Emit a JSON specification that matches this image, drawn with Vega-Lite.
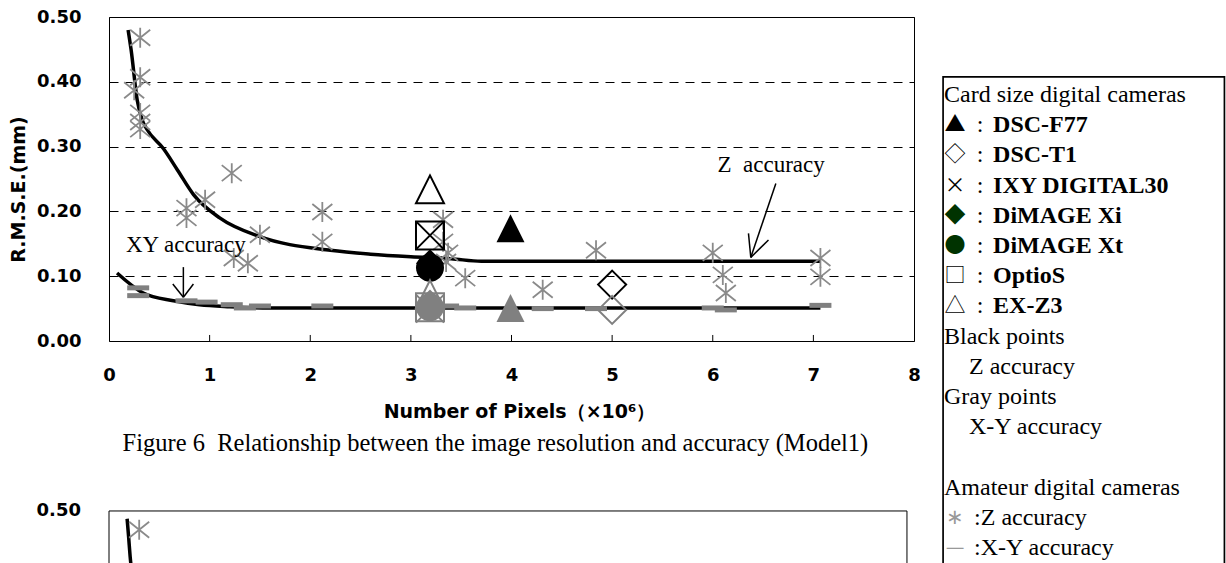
{
"$schema": "https://vega.github.io/schema/vega-lite/v6.json",
"width": 805,
"height": 324,
"autosize": {"type": "none"},
"padding": {"left": 109, "top": 17, "right": 312, "bottom": 222},
"background": "white",
"config": {"view": {"stroke": "#000000", "strokeWidth": 1}},
"datasets": {
"ticks": [{"px": 1}, {"px": 2}, {"px": 3}, {"px": 4}, {"px": 5}, {"px": 6}, {"px": 7}],
"curves": [
{"curve": "Z", "px": 0.19, "rmse": 0.48}, {"curve": "Z", "px": 0.22, "rmse": 0.449}, {"curve": "Z", "px": 0.28, "rmse": 0.372},
{"curve": "Z", "px": 0.33, "rmse": 0.341}, {"curve": "Z", "px": 0.38, "rmse": 0.326}, {"curve": "Z", "px": 0.54, "rmse": 0.297},
{"curve": "Z", "px": 0.68, "rmse": 0.264}, {"curve": "Z", "px": 0.84, "rmse": 0.226}, {"curve": "Z", "px": 1.1, "rmse": 0.19},
{"curve": "Z", "px": 1.5, "rmse": 0.161}, {"curve": "Z", "px": 2.2, "rmse": 0.14}, {"curve": "Z", "px": 2.6, "rmse": 0.134},
{"curve": "Z", "px": 3.0, "rmse": 0.13}, {"curve": "Z", "px": 3.4, "rmse": 0.127}, {"curve": "Z", "px": 3.7, "rmse": 0.123},
{"curve": "Z", "px": 5.0, "rmse": 0.123}, {"curve": "Z", "px": 7.07, "rmse": 0.123},
{"curve": "XY", "px": 0.08, "rmse": 0.105}, {"curve": "XY", "px": 0.34, "rmse": 0.074}, {"curve": "XY", "px": 0.64, "rmse": 0.062},
{"curve": "XY", "px": 0.9, "rmse": 0.056}, {"curve": "XY", "px": 1.2, "rmse": 0.053}, {"curve": "XY", "px": 1.6, "rmse": 0.051},
{"curve": "XY", "px": 4.0, "rmse": 0.051}, {"curve": "XY", "px": 7.07, "rmse": 0.051}
],
"amZ": [
{"px": 0.31, "rmse": 0.468}, {"px": 0.31, "rmse": 0.407}, {"px": 0.25, "rmse": 0.387}, {"px": 0.31, "rmse": 0.352},
{"px": 0.31, "rmse": 0.338}, {"px": 0.31, "rmse": 0.327}, {"px": 0.77, "rmse": 0.205}, {"px": 0.77, "rmse": 0.19},
{"px": 0.955, "rmse": 0.218}, {"px": 1.22, "rmse": 0.259}, {"px": 1.24, "rmse": 0.128}, {"px": 1.38, "rmse": 0.12},
{"px": 1.5, "rmse": 0.164}, {"px": 2.12, "rmse": 0.199}, {"px": 2.12, "rmse": 0.153}, {"px": 3.32, "rmse": 0.187},
{"px": 3.32, "rmse": 0.153}, {"px": 3.37, "rmse": 0.136}, {"px": 3.35, "rmse": 0.122}, {"px": 3.54, "rmse": 0.097},
{"px": 4.31, "rmse": 0.079}, {"px": 4.84, "rmse": 0.14}, {"px": 6.0, "rmse": 0.136}, {"px": 6.1, "rmse": 0.102},
{"px": 6.13, "rmse": 0.074}, {"px": 7.07, "rmse": 0.128}, {"px": 7.07, "rmse": 0.099}
],
"amXY": [
{"px": 0.29, "rmse": 0.082}, {"px": 0.29, "rmse": 0.07}, {"px": 0.77, "rmse": 0.062}, {"px": 0.97, "rmse": 0.06},
{"px": 1.22, "rmse": 0.056}, {"px": 1.35, "rmse": 0.051}, {"px": 1.5, "rmse": 0.054}, {"px": 2.12, "rmse": 0.054},
{"px": 3.37, "rmse": 0.054}, {"px": 3.54, "rmse": 0.051}, {"px": 4.31, "rmse": 0.05}, {"px": 4.84, "rmse": 0.05},
{"px": 6.0, "rmse": 0.051}, {"px": 6.13, "rmse": 0.048}, {"px": 7.07, "rmse": 0.055}
],
"card": [
{"camera": "DSC-F77", "type": "Z", "px": 3.99, "rmse": 0.174},
{"camera": "DSC-F77", "type": "XY", "px": 3.99, "rmse": 0.051},
{"camera": "DSC-T1", "type": "Z", "px": 5.0, "rmse": 0.087},
{"camera": "DSC-T1", "type": "XY", "px": 5.0, "rmse": 0.048},
{"camera": "DiMAGE Xi", "type": "Z", "px": 3.19, "rmse": 0.12},
{"camera": "DiMAGE Xi", "type": "XY", "px": 3.19, "rmse": 0.058},
{"camera": "DiMAGE Xt", "type": "Z", "px": 3.19, "rmse": 0.113},
{"camera": "DiMAGE Xt", "type": "XY", "px": 3.19, "rmse": 0.052},
{"camera": "IXY DIGITAL30", "type": "Z", "px": 3.19, "rmse": 0.163},
{"camera": "IXY DIGITAL30", "type": "XY", "px": 3.19, "rmse": 0.05},
{"camera": "OptioS", "type": "Z", "px": 3.19, "rmse": 0.163},
{"camera": "OptioS", "type": "XY", "px": 3.19, "rmse": 0.052},
{"camera": "EX-Z3", "type": "Z", "px": 3.19, "rmse": 0.234},
{"camera": "EX-Z3", "type": "XY", "px": 3.19, "rmse": 0.072}
],
"arrows": [
{"px": 6.627, "rmse": 0.243, "px2": 6.378, "rmse2": 0.129},
{"px": 6.355, "rmse": 0.166, "px2": 6.378, "rmse2": 0.129},
{"px": 6.554, "rmse": 0.156, "px2": 6.378, "rmse2": 0.129},
{"px": 0.739, "rmse": 0.114, "px2": 0.739, "rmse2": 0.0674},
{"px": 0.634, "rmse": 0.088, "px2": 0.739, "rmse2": 0.0674},
{"px": 0.839, "rmse": 0.088, "px2": 0.739, "rmse2": 0.0674}
],
"notes": [
{"text": "XY accuracy", "px": 0.764, "rmse": 0.137},
{"text": "Z\u00a0 accuracy", "px": 6.58, "rmse": 0.261}
],
"caption": [
{"text": "Figure 6\u00a0 Relationship between the image resolution and accuracy (Model1)", "px": 3.84, "rmse": -0.17}
],
"legend": [
{"row": 0, "kind": "head", "name": "Card size digital cameras"},
{"row": 1, "kind": "item", "sym": "▲", "ink": "black", "name": "DSC-F77"},
{"row": 2, "kind": "item", "sym": "◇", "ink": "black", "name": "DSC-T1"},
{"row": 3, "kind": "item", "sym": "×", "ink": "black", "name": "IXY DIGITAL30"},
{"row": 4, "kind": "item", "sym": "◆", "ink": "green", "name": "DiMAGE Xi"},
{"row": 5, "kind": "item", "sym": "●", "ink": "green", "name": "DiMAGE Xt"},
{"row": 6, "kind": "item", "sym": "□", "ink": "black", "name": "OptioS"},
{"row": 7, "kind": "item", "sym": "△", "ink": "black", "name": "EX-Z3"},
{"row": 8, "kind": "head", "name": "Black points"},
{"row": 9, "kind": "sub", "name": "Z accuracy"},
{"row": 10, "kind": "head", "name": "Gray points"},
{"row": 11, "kind": "sub", "name": "X-Y accuracy"},
{"row": 13, "kind": "head", "name": "Amateur digital cameras"},
{"row": 14, "kind": "amat", "sym": "∗", "ink": "gray", "name": ":Z accuracy"},
{"row": 15, "kind": "amat", "sym": "—", "ink": "gray", "name": ":X-Y accuracy"}
],
"box": [{"x1": 8.289, "x2": 11.085, "r1": -0.6, "r2": 17.5}],
"curve2": [
{"px": 0.18, "rmse": 0.488}, {"px": 0.195, "rmse": 0.46}, {"px": 0.21, "rmse": 0.43}, {"px": 0.23, "rmse": 0.4}, {"px": 0.27, "rmse": 0.35}
],
"amZ2": [{"px": 0.3, "rmse": 0.471}],
"frame2": [
{"px": 0, "rmse": 0.5, "px2": 7.93, "rmse2": 0.5},
{"px": 0, "rmse": 0.5, "px2": 0, "rmse2": 0.3},
{"px": 7.93, "rmse": 0.5, "px2": 7.93, "rmse2": 0.3}
],
"label2": [{"label": "0.50", "rmse": 0.5}]
},
"layer": [
{
"layer": [
{"data": {"name": "ticks"}, "mark": {"type": "rule", "color": "#000000", "strokeWidth": 1},
 "encoding": {
  "x": {"field": "px", "type": "quantitative", "scale": {"domain": [0, 8], "nice": false, "zero": false}},
  "y": {"datum": 0, "type": "quantitative", "scale": {"domain": [0, 0.5], "nice": false, "zero": false}},
  "y2": {"datum": 0.0093}
 }},
{"data": {"name": "curves"}, "mark": {"type": "line", "interpolate": "monotone", "color": "#000000", "strokeWidth": 3.5},
 "encoding": {
  "x": {"field": "px", "type": "quantitative", "scale": {"domain": [0, 8], "nice": false, "zero": false},
   "axis": {"title": "Number of Pixels（×10⁶）", "values": [0, 1, 2, 3, 4, 5, 6, 7, 8], "format": "d", "grid": false, "ticks": false, "domain": false,
    "labelFont": "DejaVu Sans", "labelFontWeight": "bold", "labelFontSize": 18, "labelColor": "#000000", "labelPadding": 34, "labelBaseline": "middle", "labelFlush": false, "labelOverlap": false,
    "titleFont": "DejaVu Sans", "titleFontWeight": "bold", "titleFontSize": 19, "titleColor": "#000000", "titleX": 410, "titleY": 70, "titleBaseline": "middle", "titleAlign": "center"}},
  "y": {"field": "rmse", "type": "quantitative", "scale": {"domain": [0, 0.5], "nice": false, "zero": false},
   "axis": {"title": "R.M.S.E.(mm)", "values": [0, 0.1, 0.2, 0.3, 0.4, 0.5], "format": ".2f", "grid": true, "gridColor": "#000000", "gridDash": [9, 7], "gridWidth": 1, "gridOpacity": 1, "ticks": false, "domain": false,
    "labelFont": "DejaVu Sans", "labelFontWeight": "bold", "labelFontSize": 18, "labelColor": "#000000", "labelPadding": 28, "labelBaseline": "middle", "labelFlush": false, "labelOverlap": false,
    "titleFont": "DejaVu Sans", "titleFontWeight": "bold", "titleFontSize": 19, "titleColor": "#000000", "titleX": -91, "titleY": 172, "titleAngle": 270, "titleBaseline": "middle", "titleAlign": "center"}},
  "detail": {"field": "curve"}
 }},
{"data": {"name": "amZ"}, "mark": {"type": "point", "shape": "M0,-1L0,1M-1,-0.8L1,0.8M-1,0.8L1,-0.8", "filled": false, "stroke": "#8a8a8a", "strokeWidth": 1.8, "size": 400, "opacity": 1},
 "encoding": {
  "x": {"field": "px", "type": "quantitative", "scale": {"domain": [0, 8], "nice": false, "zero": false}},
  "y": {"field": "rmse", "type": "quantitative", "scale": {"domain": [0, 0.5], "nice": false, "zero": false}}
 }},
{"data": {"name": "amXY"}, "mark": {"type": "point", "shape": "M-1,0L1,0", "filled": false, "stroke": "#808080", "strokeWidth": 5, "strokeCap": "butt", "size": 484, "opacity": 1},
 "encoding": {
  "x": {"field": "px", "type": "quantitative", "scale": {"domain": [0, 8], "nice": false, "zero": false}},
  "y": {"field": "rmse", "type": "quantitative", "scale": {"domain": [0, 0.5], "nice": false, "zero": false}}
 }},
{"data": {"name": "card"}, "transform": [{"filter": {"field": "camera", "oneOf": ["DSC-F77", "DiMAGE Xi", "DiMAGE Xt"]}}],
 "mark": {"type": "point", "filled": true, "size": 784, "opacity": 1},
 "encoding": {
  "x": {"field": "px", "type": "quantitative", "scale": {"domain": [0, 8], "nice": false, "zero": false}},
  "y": {"field": "rmse", "type": "quantitative", "scale": {"domain": [0, 0.5], "nice": false, "zero": false}},
  "shape": {"field": "camera", "type": "nominal", "legend": null, "scale": {"domain": ["DSC-F77", "DSC-T1", "IXY DIGITAL30", "DiMAGE Xi", "DiMAGE Xt", "OptioS", "EX-Z3"],
   "range": ["M0,-1L1,1L-1,1Z", "M0,-1L1,0L0,1L-1,0Z", "M-1,-1L1,1M-1,1L1,-1", "M0,-1L1,0L0,1L-1,0Z", "M-1,0A1,1,0,1,1,1,0A1,1,0,1,1,-1,0Z", "M-1,-1L1,-1L1,1L-1,1Z", "M0,-1L1,1L-1,1Z"]}},
  "color": {"field": "type", "type": "nominal", "legend": null, "scale": {"domain": ["Z", "XY"], "range": ["#000000", "#808080"]}}
 }},
{"data": {"name": "card"}, "transform": [{"filter": {"field": "camera", "oneOf": ["DSC-T1", "IXY DIGITAL30", "OptioS", "EX-Z3"]}}],
 "mark": {"type": "point", "filled": false, "size": 784, "strokeWidth": 2, "opacity": 1},
 "encoding": {
  "x": {"field": "px", "type": "quantitative", "scale": {"domain": [0, 8], "nice": false, "zero": false}},
  "y": {"field": "rmse", "type": "quantitative", "scale": {"domain": [0, 0.5], "nice": false, "zero": false}},
  "shape": {"field": "camera", "type": "nominal", "legend": null, "scale": {"domain": ["DSC-F77", "DSC-T1", "IXY DIGITAL30", "DiMAGE Xi", "DiMAGE Xt", "OptioS", "EX-Z3"],
   "range": ["M0,-1L1,1L-1,1Z", "M0,-1L1,0L0,1L-1,0Z", "M-1,-1L1,1M-1,1L1,-1", "M0,-1L1,0L0,1L-1,0Z", "M-1,0A1,1,0,1,1,1,0A1,1,0,1,1,-1,0Z", "M-1,-1L1,-1L1,1L-1,1Z", "M0,-1L1,1L-1,1Z"]}},
  "color": {"field": "type", "type": "nominal", "legend": null, "scale": {"domain": ["Z", "XY"], "range": ["#000000", "#808080"]}}
 }},
{"data": {"name": "arrows"}, "mark": {"type": "rule", "color": "#000000", "strokeWidth": 1.5},
 "encoding": {
  "x": {"field": "px", "type": "quantitative", "scale": {"domain": [0, 8], "nice": false, "zero": false}},
  "y": {"field": "rmse", "type": "quantitative", "scale": {"domain": [0, 0.5], "nice": false, "zero": false}},
  "x2": {"field": "px2"}, "y2": {"field": "rmse2"}
 }},
{"data": {"name": "notes"}, "mark": {"type": "text", "font": "Liberation Serif", "fontSize": 23, "color": "#000000", "align": "center", "baseline": "alphabetic"},
 "encoding": {
  "x": {"field": "px", "type": "quantitative", "scale": {"domain": [0, 8], "nice": false, "zero": false}},
  "y": {"field": "rmse", "type": "quantitative", "scale": {"domain": [0, 0.5], "nice": false, "zero": false}},
  "text": {"field": "text"}
 }},
{"data": {"name": "caption"}, "mark": {"type": "text", "font": "Liberation Serif", "fontSize": 24.5, "color": "#000000", "align": "center", "baseline": "alphabetic"},
 "encoding": {
  "x": {"field": "px", "type": "quantitative", "scale": {"domain": [0, 8], "nice": false, "zero": false}},
  "y": {"field": "rmse", "type": "quantitative", "scale": {"domain": [0, 0.5], "nice": false, "zero": false}},
  "text": {"field": "text"}
 }}
]
},
{
"layer": [
{"data": {"name": "box"}, "mark": {"type": "rect", "fill": "white", "stroke": "#000000", "strokeWidth": 1.7},
 "encoding": {
  "x": {"field": "x1", "type": "quantitative", "axis": null, "scale": {"domain": [0, 8], "nice": false, "zero": false}},
  "x2": {"field": "x2"},
  "y": {"field": "r1", "type": "quantitative", "axis": null, "scale": {"domain": [-2.583, 8.145], "reverse": true, "nice": false, "zero": false}},
  "y2": {"field": "r2"}
 }},
{"data": {"name": "legend"}, "transform": [{"filter": "datum.kind === 'head'"}],
 "mark": {"type": "text", "font": "Liberation Serif", "fontSize": 24, "color": "#000000", "align": "left", "baseline": "middle"},
 "encoding": {
  "x": {"datum": 8.298, "type": "quantitative", "axis": null, "scale": {"domain": [0, 8], "nice": false, "zero": false}},
  "y": {"field": "row", "type": "quantitative", "axis": null, "scale": {"domain": [-2.583, 8.145], "reverse": true, "nice": false, "zero": false}},
  "text": {"field": "name"}
 }},
{"data": {"name": "legend"}, "transform": [{"filter": "datum.kind === 'sub'"}],
 "mark": {"type": "text", "font": "Liberation Serif", "fontSize": 24, "color": "#000000", "align": "left", "baseline": "middle"},
 "encoding": {
  "x": {"datum": 8.547, "type": "quantitative", "axis": null, "scale": {"domain": [0, 8], "nice": false, "zero": false}},
  "y": {"field": "row", "type": "quantitative", "axis": null, "scale": {"domain": [-2.583, 8.145], "reverse": true, "nice": false, "zero": false}},
  "text": {"field": "name"}
 }},
{"data": {"name": "legend"}, "transform": [{"filter": "datum.kind === 'item' || datum.kind === 'amat'"}],
 "mark": {"type": "text", "font": "Noto Sans CJK JP", "fontSize": 21, "align": "center", "baseline": "middle"},
 "encoding": {
  "x": {"datum": 8.408, "type": "quantitative", "axis": null, "scale": {"domain": [0, 8], "nice": false, "zero": false}},
  "y": {"field": "row", "type": "quantitative", "axis": null, "scale": {"domain": [-2.583, 8.145], "reverse": true, "nice": false, "zero": false}},
  "text": {"field": "sym"},
  "color": {"field": "ink", "type": "nominal", "legend": null, "scale": {"domain": ["black", "green", "gray"], "range": ["#000000", "#003300", "#999999"]}}
 }},
{"data": {"name": "legend"}, "transform": [{"filter": "datum.kind === 'item'"}],
 "mark": {"type": "text", "font": "Liberation Serif", "fontSize": 24, "color": "#000000", "align": "center", "baseline": "middle", "text": ":"},
 "encoding": {
  "x": {"datum": 8.657, "type": "quantitative", "axis": null, "scale": {"domain": [0, 8], "nice": false, "zero": false}},
  "y": {"field": "row", "type": "quantitative", "axis": null, "scale": {"domain": [-2.583, 8.145], "reverse": true, "nice": false, "zero": false}}
 }},
{"data": {"name": "legend"}, "transform": [{"filter": "datum.kind === 'item'"}],
 "mark": {"type": "text", "font": "Liberation Serif", "fontSize": 24, "fontWeight": "bold", "color": "#000000", "align": "left", "baseline": "middle"},
 "encoding": {
  "x": {"datum": 8.786, "type": "quantitative", "axis": null, "scale": {"domain": [0, 8], "nice": false, "zero": false}},
  "y": {"field": "row", "type": "quantitative", "axis": null, "scale": {"domain": [-2.583, 8.145], "reverse": true, "nice": false, "zero": false}},
  "text": {"field": "name"}
 }},
{"data": {"name": "legend"}, "transform": [{"filter": "datum.kind === 'amat'"}],
 "mark": {"type": "text", "font": "Liberation Serif", "fontSize": 24, "color": "#000000", "align": "left", "baseline": "middle"},
 "encoding": {
  "x": {"datum": 8.597, "type": "quantitative", "axis": null, "scale": {"domain": [0, 8], "nice": false, "zero": false}},
  "y": {"field": "row", "type": "quantitative", "axis": null, "scale": {"domain": [-2.583, 8.145], "reverse": true, "nice": false, "zero": false}},
  "text": {"field": "name"}
 }}
]
},
{
"layer": [
{"data": {"name": "frame2"}, "mark": {"type": "rule", "color": "#000000", "strokeWidth": 1},
 "encoding": {
  "x": {"field": "px", "type": "quantitative", "axis": null, "scale": {"domain": [0, 8], "nice": false, "zero": false}},
  "y": {"field": "rmse", "type": "quantitative", "axis": null, "scale": {"domain": [0.7623, 1.2623], "nice": false, "zero": false}},
  "x2": {"field": "px2"}, "y2": {"field": "rmse2"}
 }},
{"data": {"name": "curve2"}, "mark": {"type": "line", "interpolate": "monotone", "color": "#000000", "strokeWidth": 3.5},
 "encoding": {
  "x": {"field": "px", "type": "quantitative", "axis": null, "scale": {"domain": [0, 8], "nice": false, "zero": false}},
  "y": {"field": "rmse", "type": "quantitative", "axis": null, "scale": {"domain": [0.7623, 1.2623], "nice": false, "zero": false}}
 }},
{"data": {"name": "amZ2"}, "mark": {"type": "point", "shape": "M0,-1L0,1M-1,-0.8L1,0.8M-1,0.8L1,-0.8", "filled": false, "stroke": "#8a8a8a", "strokeWidth": 1.8, "size": 400, "opacity": 1},
 "encoding": {
  "x": {"field": "px", "type": "quantitative", "axis": null, "scale": {"domain": [0, 8], "nice": false, "zero": false}},
  "y": {"field": "rmse", "type": "quantitative", "axis": null, "scale": {"domain": [0.7623, 1.2623], "nice": false, "zero": false}}
 }},
{"data": {"name": "label2"}, "mark": {"type": "text", "font": "DejaVu Sans", "fontWeight": "bold", "fontSize": 18, "color": "#000000", "align": "right", "baseline": "middle"},
 "encoding": {
  "x": {"datum": -0.2786, "type": "quantitative", "axis": null, "scale": {"domain": [0, 8], "nice": false, "zero": false}},
  "y": {"field": "rmse", "type": "quantitative", "axis": null, "scale": {"domain": [0.7623, 1.2623], "nice": false, "zero": false}},
  "text": {"field": "label"}
 }}
]
}
],
"resolve": {"scale": {"x": "independent", "y": "independent", "color": "independent", "shape": "independent"}}
}
